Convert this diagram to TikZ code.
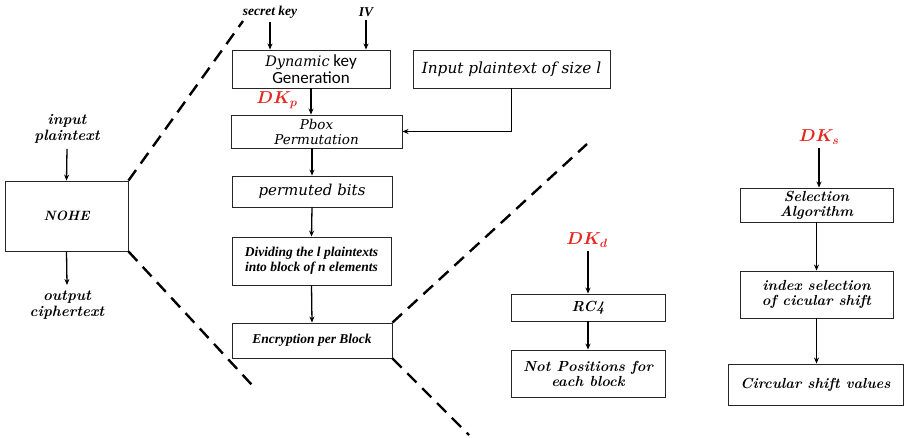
\documentclass[tikz,border=0pt]{standalone}
\usepackage{amsmath}
\usepackage{fontspec}
\newfontfamily\tnr{Liberation Serif}
\newfontfamily\carl{Carlito}
\newfontfamily\dvs{DejaVu Serif}
\usetikzlibrary{arrows.meta}
\definecolor{dkred}{RGB}{230,40,35}
\tikzset{
  box/.style={draw=black!85, line width=0.9pt, rectangle, align=center, inner sep=1pt},
  flow/.style={line width=1.3pt, -{Stealth[length=6pt,width=5pt]}},
  zoomline/.style={line width=2.4pt, dash pattern=on 13pt off 8pt},
  bi/.style={font=\fontsize{14.6}{16}\selectfont\bfseries\itshape},
  tbi/.style={font=\tnr\fontsize{13.5}{15}\selectfont\bfseries\itshape},
  it/.style={font=\dvs\fontsize{13.5}{15}\selectfont\itshape},
  dk/.style={text=dkred, font=\fontsize{17}{18}\selectfont}
}
\begin{document}
\begin{tikzpicture}[x=1pt,y=-1pt]
\useasboundingbox (0,0) rectangle (908,438);

% overall scheme
\node[box, bi, font=\fontsize{13.5}{15}\selectfont\bfseries\itshape, minimum width=123pt, minimum height=70pt] (nohe) at (66.5,216) {NOHE};
\node[bi, font=\fontsize{15}{15.5}\selectfont\bfseries\itshape, align=center] (inpt) at (67,129) {input\\plaintext};
\node[bi, font=\fontsize{15}{15.5}\selectfont\bfseries\itshape, align=center] (outc) at (67,305) {output\\ciphertext};
\draw[flow] (inpt.south) ++(0,2) coordinate (inptb) (inptb) -- (nohe.north);
\coordinate (outt) at (67,285);
\draw[flow] (nohe.south) -- (outt);

% key generation and permutation column
\node[font=\tnr\fontsize{13.5}{14}\selectfont\bfseries\itshape] (sk) at (270,12) {secret key};
\node[font=\tnr\fontsize{13.5}{14}\selectfont\bfseries\itshape] (iv) at (366,12) {IV};
\node[box, minimum width=158pt, minimum height=38pt, font=\carl\fontsize{17}{17}\selectfont] (dkg) at (311,69)
  {{\dvs\fontsize{14.5}{15}\selectfont\itshape Dynamic} key\\Generation};
\draw[flow] (sk.south) -- (sk.south |- dkg.north);
\draw[flow] (iv.south) -- (iv.south |- dkg.north);
\node[box, it, font=\dvs\fontsize{15.3}{16}\selectfont\itshape, minimum width=197pt, minimum height=38pt] (inp) at (511.5,69)
  {Input plaintext of size l};
\node[dk] (dkp) at (277,100) {$\boldsymbol{DK_p}$};
\node[box, it, minimum width=171pt, minimum height=33pt] (pbox) at (316.5,131.5)
  {Pbox\\Permutation};
\draw[flow] (dkg.south) -- (dkg.south |- pbox.north);
\draw[flow] (inp.south) |- (pbox.east);
\node[box, it, font=\dvs\fontsize{15}{16}\selectfont\itshape, minimum width=160pt, minimum height=31pt] (perm) at (312,191.5)
  {permuted bits};
\node[box, tbi, minimum width=159pt, minimum height=48pt] (div) at (311.5,261)
  {Dividing the l plaintexts\\into block of n elements};
\node[box, tbi, minimum width=160pt, minimum height=35pt] (enc) at (312,340.5)
  {Encryption per Block};
\draw[flow] (perm.north |- pbox.south) -- (perm.north);
\draw[flow] (perm.south) -- (div.north);
\draw[flow] (div.south) -- (enc.north);

% zoom guides
\coordinate (z1) at (243,21);
\coordinate (z2) at (252,385);
\coordinate (z3) at (587,144);
\coordinate (z4) at (469,435);
\draw[zoomline] (nohe.north east) -- (z1);
\draw[zoomline] (nohe.south east) -- (z2);
\draw[zoomline] (enc.north east) -- (z3);
\draw[zoomline] (enc.south east) -- (z4);

% RC4 column
\node[dk] (dkd) at (587,240) {$\boldsymbol{DK_d}$};
\node[box, bi, minimum width=154pt, minimum height=27pt] (rc4) at (588,307.5) {RC4};
\node[box, bi, minimum width=154pt, minimum height=47pt] (notp) at (588,373.5) {Not Positions for\\[-1pt]each block};
\draw[flow] (dkd.south -| rc4.north) -- (rc4.north);
\draw[flow] (rc4.south) -- (notp.north);

% circular shift column
\node[dk] (dks) at (819,137) {$\boldsymbol{DK_s}$};
\node[box, bi, minimum width=153pt, minimum height=34pt] (sel) at (816.5,205) {Selection\\[-1pt]Algorithm};
\node[box, bi, minimum width=153pt, minimum height=47pt] (idx) at (816.5,294.5) {index selection\\[-1pt]of cicular shift};
\node[box, bi, minimum width=175pt, minimum height=41pt] (circ) at (815.5,384.5) {Circular shift values};
\draw[flow] (dks.south) -- (dks.south |- sel.north);
\draw[flow] (sel.south) -- (idx.north);
\draw[flow] (idx.south) -- (idx.south |- circ.north);
\end{tikzpicture}
\end{document}
